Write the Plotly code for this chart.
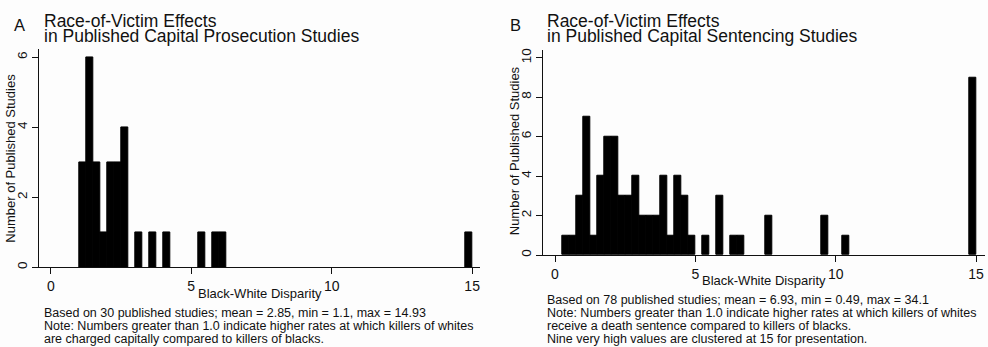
import plotly.graph_objects as go

# ---------------- data ----------------
BIN_WIDTH = 0.25

A_bin_left = [1.0, 1.25, 1.5, 1.75, 2.0, 2.25, 2.5, 3.0, 3.5, 4.0, 5.25, 5.75, 6.0, 14.75]
A_counts = [3, 6, 3, 1, 3, 3, 4, 1, 1, 1, 1, 1, 1, 1]

B_bin_left = [0.25, 0.5, 0.75, 1.0, 1.25, 1.5, 1.75, 2.0, 2.25, 2.5, 2.75, 3.0, 3.25,
              3.5, 3.75, 4.0, 4.25, 4.5, 4.75, 5.25, 5.75, 6.25, 6.5, 7.5, 9.5, 10.25, 14.75]
B_counts = [1, 1, 3, 7, 1, 4, 6, 6, 3, 3, 4, 2, 2,
            2, 4, 1, 4, 3, 1, 1, 3, 1, 1, 2, 2, 1, 9]

x_ticks = [0, 5, 10, 15]
A_y_ticks = [0, 2, 4, 6]
B_y_ticks = [0, 2, 4, 6, 8, 10]

A_title = ["Race-of-Victim Effects", "in Published Capital Prosecution Studies"]
B_title = ["Race-of-Victim Effects", "in Published Capital Sentencing Studies"]
A_notes = ["Based on 30 published studies; mean = 2.85, min = 1.1, max = 14.93",
           "Note: Numbers greater than 1.0 indicate higher rates at which killers of whites",
           "are charged capitally compared to killers of blacks."]
B_notes = ["Based on 78 published studies; mean = 6.93, min = 0.49, max = 34.1",
           "Note: Numbers greater than 1.0 indicate higher rates at which killers of whites",
           "receive a death sentence compared to killers of blacks.",
           "Nine very high values are clustered at 15 for presentation."]
x_label = "Black-White Disparity"
y_label = "Number of Published Studies"

# ---------------- figure ----------------
W, H = 988, 347
FONT = "Liberation Sans, Arial, Helvetica, sans-serif"
INK = "#111111"


def px(x):
    return x / W


def py(y):
    return 1 - y / H


fig = go.Figure()
fig.add_trace(go.Bar(x=[l + BIN_WIDTH / 2 for l in A_bin_left], y=A_counts, width=BIN_WIDTH,
                     marker=dict(color="black", line=dict(color="black", width=1)),
                     xaxis="x", yaxis="y", showlegend=False, hoverinfo="x+y"))
fig.add_trace(go.Bar(x=[l + BIN_WIDTH / 2 for l in B_bin_left], y=B_counts, width=BIN_WIDTH,
                     marker=dict(color="black", line=dict(color="black", width=1)),
                     xaxis="x2", yaxis="y2", showlegend=False, hoverinfo="x+y"))

common_x = dict(showgrid=False, zeroline=False, showline=True, linecolor=INK, linewidth=1.3,
                ticks="outside", ticklen=6, tickwidth=1.2, tickcolor=INK,
                tickvals=x_ticks, tickfont=dict(family=FONT, size=14, color=INK),
                fixedrange=True)
common_y = dict(showgrid=False, zeroline=False, showline=True, linecolor=INK, linewidth=1.3,
                ticks="outside", ticklen=6, tickwidth=1.2, tickcolor=INK,
                tickangle=-90, tickfont=dict(family=FONT, size=13.5, color=INK),
                fixedrange=True)

fig.update_layout(
    width=W, height=H,
    margin=dict(l=0, r=0, t=0, b=0),
    paper_bgcolor="#fdfdfd", plot_bgcolor="#fdfdfd",
    bargap=0,
    font=dict(family=FONT, color=INK),
    xaxis=dict(common_x, domain=[px(39.3), px(480)], range=[-0.41, 15.28], anchor="y"),
    yaxis=dict(common_y, domain=[py(268.3), py(48)], range=[0, 6.22], tickvals=A_y_ticks, anchor="x"),
    xaxis2=dict(common_x, domain=[px(543.3), px(985)], range=[-0.417, 15.32], anchor="y2"),
    yaxis2=dict(common_y, domain=[py(256), py(48.3)], range=[0, 10.4], tickvals=B_y_ticks, anchor="x2"),
)

annotations = []


def add_text(text, x, y, size, xanchor="left", angle=0):
    annotations.append(dict(text=text, x=px(x), y=py(y), xref="paper", yref="paper",
                            xanchor=xanchor, yanchor="middle", showarrow=False, textangle=angle,
                            font=dict(family=FONT, size=size, color=INK)))


# panel letters
add_text("A", 19.5, 23.3, 16.5, xanchor="center")
add_text("B", 515, 23.7, 16.5, xanchor="center")
# titles
for i, line in enumerate(A_title):
    add_text(line, 41.5, 19.5 + 15 * i, 17.5)
for i, line in enumerate(B_title):
    add_text(line, 544.5, 19.5 + 15 * i, 17.5)
# axis titles
add_text(x_label, 259.5, 295, 13, xanchor="center")
add_text(x_label, 764, 282, 13, xanchor="center")
add_text(y_label, 10.5, 158, 13, xanchor="center", angle=-90)
add_text(y_label, 514, 151, 13, xanchor="center", angle=-90)
# notes
for i, line in enumerate(A_notes):
    add_text(line, 41.5, 314.5 + 13.4 * i, 12.5)
for i, line in enumerate(B_notes):
    add_text(line, 544.5, 301.5 + 13.2 * i, 12.5)

fig.update_layout(annotations=annotations)

fig.write_html("out.html", config={"displayModeBar": False},
               post_script="document.body.style.margin='0';document.body.style.overflow='hidden';")
